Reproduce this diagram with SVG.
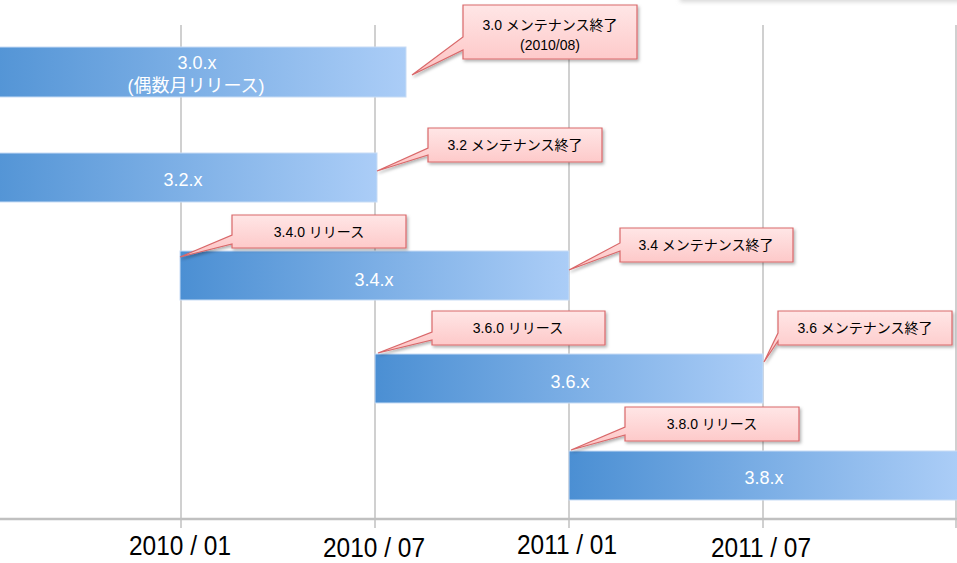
<svg xmlns="http://www.w3.org/2000/svg" width="957" height="563" viewBox="0 0 957 563">
<defs>
<linearGradient id="bar" x1="0" y1="0" x2="1" y2="0">
<stop offset="0" stop-color="#4b8fd3"/>
<stop offset="1" stop-color="#abcdf7"/>
</linearGradient>
<linearGradient id="bar30" x1="0" y1="0" x2="1" y2="0">
<stop offset="0" stop-color="#5495d6"/>
<stop offset="1" stop-color="#abcdf7"/>
</linearGradient>
<linearGradient id="pink" x1="0" y1="0" x2="0" y2="1">
<stop offset="0" stop-color="#ffe6e6"/>
<stop offset="1" stop-color="#fdc2c2"/>
</linearGradient>
<filter id="sh" x="-10%" y="-20%" width="130%" height="160%">
<feDropShadow dx="1.5" dy="2" stdDeviation="1.5" flood-color="#000" flood-opacity="0.3"/>
</filter>
<filter id="blur" x="-10%" y="-200%" width="120%" height="500%">
<feGaussianBlur stdDeviation="2"/>
</filter>
</defs>
<style>
.grid{stroke:#c0c0c0;stroke-width:1.5;fill:none}
.axis{stroke:#c0c0c0;stroke-width:2.5;fill:none}
.bar{stroke:#c7dcf5;stroke-width:1}
.btxt{font-family:"Liberation Sans","Noto Sans CJK JP",sans-serif;font-size:18px;fill:#ffffff;text-anchor:middle}
.call{fill:url(#pink);stroke:#d9686a;stroke-width:1.2;filter:url(#sh)}
.ctxt{font-family:"Liberation Sans","Noto Sans CJK JP",sans-serif;font-size:14px;fill:#000000;text-anchor:middle}
.ltxt{font-family:"Liberation Sans",sans-serif;font-size:28px;fill:#000000;text-anchor:middle}
</style>
<rect x="680" y="-6" width="290" height="8" fill="#d8d8d8" filter="url(#blur)"/>
<g id="connectors">
<line class="grid" x1="181" y1="25" x2="181" y2="528"/>
<line class="grid" x1="375" y1="25" x2="375" y2="528"/>
<line class="grid" x1="569" y1="25" x2="569" y2="528"/>
<line class="grid" x1="763" y1="25" x2="763" y2="528"/>
<line class="grid" x1="956" y1="25" x2="956" y2="528"/>
<line class="axis" x1="0" y1="519" x2="957" y2="519"/>
</g>
<g id="axis-labels">
<text class="ltxt" x="180" y="555" textLength="102" lengthAdjust="spacingAndGlyphs">2010 / 01</text>
<text class="ltxt" x="374" y="557" textLength="102" lengthAdjust="spacingAndGlyphs">2010 / 07</text>
<text class="ltxt" x="567" y="554" textLength="100" lengthAdjust="spacingAndGlyphs">2011 / 01</text>
<text class="ltxt" x="761" y="557" textLength="100" lengthAdjust="spacingAndGlyphs">2011 / 07</text>
</g>
<g id="bar-30">
<rect class="bar" x="-1" y="47" width="407" height="50" fill="url(#bar30)"/>
<text class="btxt" x="197" y="69">3.0.x</text>
<text class="btxt" x="196" y="92">(偶数月リリース)</text>
</g>
<g id="bar-32">
<rect class="bar" x="-1" y="153" width="378" height="49" fill="url(#bar30)"/>
<text class="btxt" x="183" y="186">3.2.x</text>
</g>
<g id="bar-34">
<rect class="bar" x="180" y="251" width="389" height="49" fill="url(#bar)"/>
<text class="btxt" x="374" y="286">3.4.x</text>
</g>
<g id="bar-36">
<rect class="bar" x="375" y="354" width="388" height="49" fill="url(#bar)"/>
<text class="btxt" x="570" y="388">3.6.x</text>
</g>
<g id="bar-38">
<rect class="bar" x="569" y="451" width="389" height="49" fill="url(#bar)"/>
<text class="btxt" x="764" y="484">3.8.x</text>
</g>
<g id="callout-30">
<path class="call" d="M463,5 H637 V59 H463 V50 L412,75 L463,37 Z"/>
<text class="ctxt" x="550" y="30">3.0 メンテナンス終了</text>
<text class="ctxt" x="550" y="50">(2010/08)</text>
</g>
<g id="callout-32">
<path class="call" d="M428,128 H602 V162 H428 V155 L377,171 L428,148 Z"/>
<text class="ctxt" x="515" y="150">3.2 メンテナンス終了</text>
</g>
<g id="callout-340">
<path class="call" d="M232,215 H406 V248 H232 V244 L180,257 L232,235 Z"/>
<text class="ctxt" x="319" y="237">3.4.0 リリース</text>
</g>
<g id="callout-34">
<path class="call" d="M620,228 H793 V262 H620 V251 L569,270 L620,243 Z"/>
<text class="ctxt" x="706" y="250">3.4 メンテナンス終了</text>
</g>
<g id="callout-360">
<path class="call" d="M432,311 H605 V345 H432 V340 L378,353 L432,332 Z"/>
<text class="ctxt" x="518" y="333">3.6.0 リリース</text>
</g>
<g id="callout-36">
<path class="call" d="M778,311 H952 V345 H778 V341 L764,362 L778,333 Z"/>
<text class="ctxt" x="865" y="333">3.6 メンテナンス終了</text>
</g>
<g id="callout-380">
<path class="call" d="M625,407 H799 V441 H625 V435 L571,450 L625,427 Z"/>
<text class="ctxt" x="712" y="429">3.8.0 リリース</text>
</g>
</svg>
